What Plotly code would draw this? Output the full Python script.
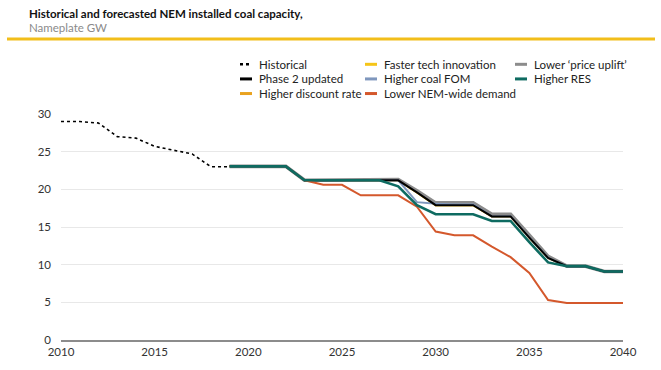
import plotly.graph_objects as go

# ---- data ----
hist_years = [2010, 2011, 2012, 2013, 2014, 2015, 2016, 2017, 2018, 2019]
historical = [29.0, 29.0, 28.8, 27.0, 26.8, 25.7, 25.2, 24.7, 23.0, 23.0]

fc_years = list(range(2019, 2041))
phase2 = [23.05, 23.05, 23.05, 23.05, 21.2, 21.2, 21.2, 21.2, 21.2, 21.2, 19.6,
          17.9, 17.9, 17.9, 16.4, 16.4, 13.6, 10.9, 9.8, 9.8, 9.1, 9.1]
higher_discount = [23.05, 23.05, 23.05, 23.05, 21.2, 21.2, 21.2, 21.2, 21.2, 21.2, 19.6,
                   17.9, 17.9, 17.9, 16.4, 16.4, 13.6, 10.9, 9.8, 9.8, 9.1, 9.1]
faster_tech = [23.05, 23.05, 23.05, 23.05, 21.2, 21.2, 21.2, 21.2, 21.2, 21.2, 19.6,
               17.9, 17.9, 17.9, 16.4, 16.4, 13.6, 10.9, 9.8, 9.8, 9.1, 9.1]
higher_coal_fom = [23.05, 23.05, 23.05, 23.05, 21.2, 21.2, 21.2, 21.2, 21.2, 21.2, 18.3,
                   18.1, 18.0, 18.0, 16.4, 16.4, 13.6, 10.9, 9.8, 9.8, 9.1, 9.1]
lower_price_uplift = [23.05, 23.05, 23.05, 23.05, 21.2, 21.2, 21.2, 21.2, 21.2, 21.3, 19.8,
                      18.2, 18.2, 18.2, 16.7, 16.7, 13.9, 11.1, 9.8, 9.8, 9.1, 9.1]
lower_nem_demand = [23.05, 23.05, 23.05, 23.05, 21.2, 20.6, 20.6, 19.2, 19.2, 19.2, 17.7,
                    14.4, 13.9, 13.9, 12.4, 11.0, 8.9, 5.3, 4.9, 4.9, 4.9, 4.9]
higher_res = [23.05, 23.05, 23.05, 23.05, 21.2, 21.2, 21.2, 21.2, 21.2, 20.4, 17.9,
              16.7, 16.7, 16.7, 15.8, 15.8, 13.0, 10.3, 9.8, 9.8, 9.1, 9.1]

x_ticks = [2010, 2015, 2020, 2025, 2030, 2035, 2040]
y_ticks = [0, 5, 10, 15, 20, 25, 30]

title = "Historical and forecasted NEM installed coal capacity,"
subtitle = "Nameplate GW"

# ---- style ----
FONT = "Lato"
C_HIST = "#000000"
C_P2 = "#000000"
C_DISC = "#E9A21F"
C_FAST = "#F5C518"
C_FOM = "#7F97BD"
C_NEM = "#D4582C"
C_PRICE = "#8C8C8C"
C_RES = "#0E6B61"

W, H = 661, 370
L, R, T, B = 61, 623, 114, 346  # plot area pixels

fig = go.Figure()

def add(x, y, name, color, width, dash="solid"):
    fig.add_trace(go.Scatter(x=x, y=y, name=name, mode="lines",
                             line=dict(color=color, width=width, dash=dash),
                             showlegend=False, hoverinfo="x+y+name"))

add(hist_years, historical, "Historical", C_HIST, 1.6, "dot")
add(fc_years, higher_discount, "Higher discount rate", C_DISC, 2)
add(fc_years, faster_tech, "Faster tech innovation", C_FAST, 2)
add(fc_years, lower_price_uplift, "Lower 'price uplift'", C_PRICE, 3.6)
add(fc_years, higher_coal_fom, "Higher coal FOM", C_FOM, 2)
add(fc_years, phase2, "Phase 2 updated", C_P2, 2)
add(fc_years, lower_nem_demand, "Lower NEM-wide demand", C_NEM, 2)
add(fc_years, higher_res, "Higher RES", C_RES, 2.6)

def px(xp):
    return (xp - L) / (R - L)

def py(yp):
    return (B - yp) / (B - T)

shapes = []
annotations = []

# legend (manual, three columns)
legend_items = [
    (240, 63, "Historical", C_HIST, "dot"),
    (240, 78, "Phase 2 updated", C_P2, "solid"),
    (240, 93, "Higher discount rate", C_DISC, "solid"),
    (365, 63, "Faster tech innovation", C_FAST, "solid"),
    (365, 78, "Higher coal FOM", C_FOM, "solid"),
    (365, 93, "Lower NEM-wide demand", C_NEM, "solid"),
    (515, 63, "Lower \u2018price uplift\u2019", C_PRICE, "solid"),
    (515, 78, "Higher RES", C_RES, "solid"),
]
for x0, y0, label, color, dash in legend_items:
    shapes.append(dict(type="line", xref="paper", yref="paper",
                       x0=px(x0), x1=px(x0 + 12), y0=py(y0), y1=py(y0),
                       line=dict(color=color, width=3 if dash == "solid" else 2.5,
                                 dash=dash)))
    annotations.append(dict(xref="paper", yref="paper", x=px(x0 + 17), y=py(y0),
                            text=label, showarrow=False, xanchor="left",
                            yanchor="middle",
                            font=dict(family=FONT, size=11.5, color="#222222")))

# header
annotations.append(dict(xref="paper", yref="paper", x=px(27), y=py(11),
                        text="<b>" + title + "</b>", showarrow=False,
                        xanchor="left", yanchor="middle",
                        font=dict(family=FONT, size=11.5, color="#111111")))
annotations.append(dict(xref="paper", yref="paper", x=px(27), y=py(25),
                        text=subtitle, showarrow=False,
                        xanchor="left", yanchor="middle",
                        font=dict(family=FONT, size=11.5, color="#8a8a8a")))
shapes.append(dict(type="line", xref="paper", yref="paper",
                   x0=px(7), x1=px(655), y0=py(37), y1=py(37),
                   line=dict(color="#F2BE1A", width=3)))

fig.update_layout(
    width=W, height=H,
    margin=dict(l=L, r=W - R, t=T, b=H - B, pad=0),
    paper_bgcolor="white", plot_bgcolor="white",
    font=dict(family=FONT, size=11.5, color="#333333"),
    showlegend=False,
    shapes=shapes,
    annotations=annotations,
    xaxis=dict(range=[2010, 2040], tickvals=x_ticks, ticktext=[str(v) for v in x_ticks],
               showgrid=False, zeroline=False, showline=True,
               linecolor="#8c8c8c", linewidth=1.5, ticks="",
               tickfont=dict(family=FONT, size=11.5, color="#333333")),
    yaxis=dict(range=[0, 30], tickvals=y_ticks, showgrid=True, gridcolor="#e8e8e8",
               gridwidth=1, zeroline=False, showline=False, ticks="",
               ticklabelstandoff=9,
               tickfont=dict(family=FONT, size=11.5, color="#333333")),
)

fig.write_html("out.html",
               config={"displayModeBar": False},
               post_script="document.body.style.margin='0';document.body.style.padding='0';")
